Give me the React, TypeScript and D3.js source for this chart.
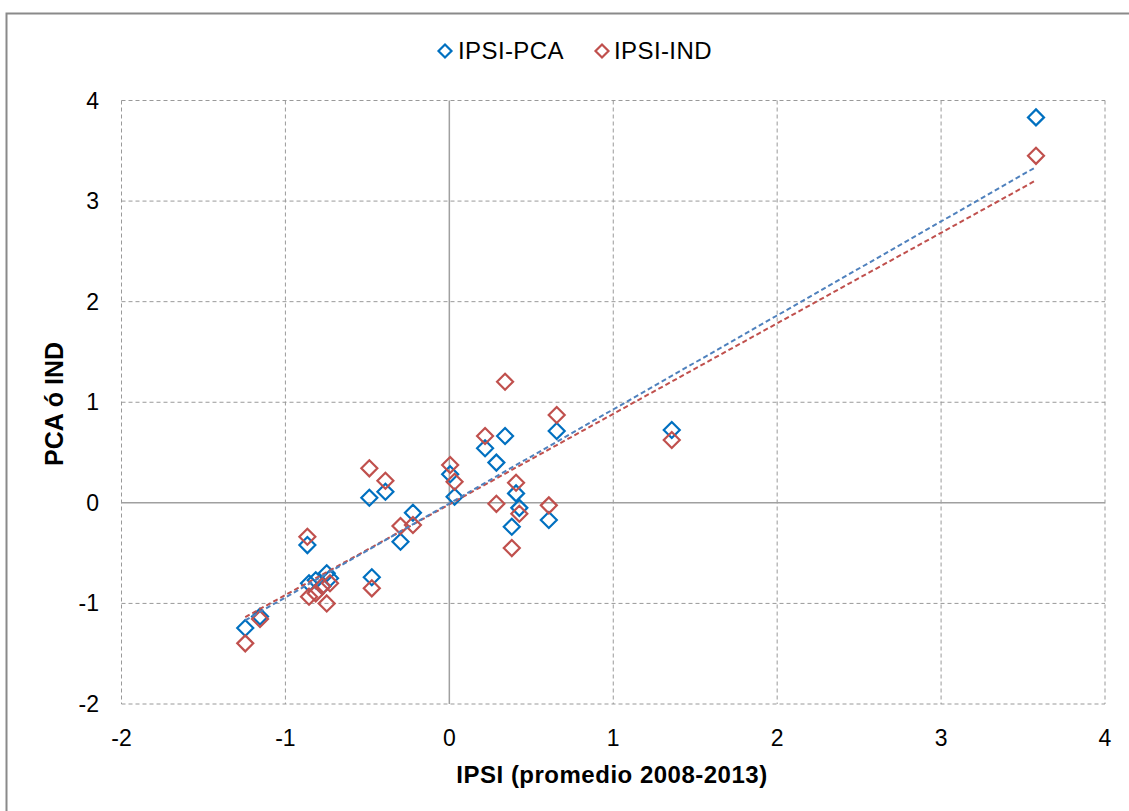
import React from "react";
import * as d3 from "d3";

const ipsi = [-1.245, -1.155, -0.866, -0.856, -0.815, -0.775, -0.748, -0.728, -0.488, -0.473, -0.39, -0.298, -0.222, 0.005, 0.032, 0.218, 0.287, 0.34, 0.381, 0.407, 0.427, 0.607, 0.655, 1.357, 3.579];
const pca = [-1.245, -1.13, -0.42, -0.8, -0.77, -0.83, -0.7, -0.75, 0.05, -0.74, 0.11, -0.387, -0.098, 0.285, 0.06, 0.542, 0.4, 0.664, -0.238, 0.094, -0.05, -0.171, 0.714, 0.724, 3.832];
const ind = [-1.397, -1.155, -0.337, -0.933, -0.9, -0.83, -1.0, -0.8, 0.343, -0.85, 0.22, -0.231, -0.22, 0.376, 0.21, 0.664, -0.01, 1.204, -0.45, 0.2, -0.108, -0.025, 0.873, 0.624, 3.45];
const xTicks = [-2, -1, 0, 1, 2, 3, 4];
const yTicks = [-2, -1, 0, 1, 2, 3, 4];
const seriesNames = ["IPSI-PCA", "IPSI-IND"];

const W = 1129, H = 811;
const L = 121.5, R = 1105, T = 100.5, B = 704;
const FONT = "'Liberation Sans', Arial, sans-serif";

function fit(xs: number[], ys: number[]) {
  const mx = d3.mean(xs)!, my = d3.mean(ys)!;
  let sxy = 0, sxx = 0;
  xs.forEach((x, i) => { sxy += (x - mx) * (ys[i] - my); sxx += (x - mx) ** 2; });
  const b = sxy / sxx;
  return { a: my - b * mx, b };
}

function diamond(cx: number, cy: number, r: number) {
  return `M${cx},${cy - r}L${cx + r},${cy}L${cx},${cy + r}L${cx - r},${cy}Z`;
}

export default function App() {
  const x = d3.scaleLinear().domain([-2, 4]).range([L, R]);
  const y = d3.scaleLinear().domain([-2, 4]).range([B, T]);
  const xmin = d3.min(ipsi)!, xmax = d3.max(ipsi)!;
  const series = [
    { name: seriesNames[0], vals: pca, color: "#0070C0", trend: "#4F81BD" },
    { name: seriesNames[1], vals: ind, color: "#C0504D", trend: "#C0504D" },
  ];
  const line = d3.line<[number, number]>().x(d => x(d[0])).y(d => y(d[1]));
  const gridColor = "#999999";
  return (
    <svg width={W} height={H} style={{ position: "absolute", left: 0, top: 0, background: "#fff" }}>
      <rect x={0} y={0} width={W} height={H} fill="#fff" />
      <path d={`M6.5,${H}L6.5,13.5L${W},13.5`} fill="none" stroke="#8a8a8a" strokeWidth={2} />
      {xTicks.filter(t => t !== 0).map(t => (
        <line key={"gx" + t} x1={x(t)} x2={x(t)} y1={T} y2={B} stroke={gridColor} strokeWidth={1} strokeDasharray="4,3" />
      ))}
      {yTicks.filter(t => t !== 0).map(t => (
        <line key={"gy" + t} x1={L} x2={R} y1={y(t)} y2={y(t)} stroke={gridColor} strokeWidth={1} strokeDasharray="4,3" />
      ))}
      <line x1={x(0)} x2={x(0)} y1={T} y2={B} stroke="#a0a0a0" strokeWidth={1.5} />
      <line x1={L} x2={R} y1={y(0)} y2={y(0)} stroke="#a0a0a0" strokeWidth={1.5} />
      {xTicks.map(t => (
        <text key={"xl" + t} x={x(t)} y={746} textAnchor="middle" fontFamily={FONT} fontSize={23} fill="#000">{t}</text>
      ))}
      {yTicks.map(t => (
        <text key={"yl" + t} x={99} y={y(t) + 8} textAnchor="end" fontFamily={FONT} fontSize={23} fill="#000">{t}</text>
      ))}
      {series.map(s => (
        <g key={s.name}>
          {ipsi.map((xv, i) => (
            <path key={i} d={diamond(x(xv), y(s.vals[i]), 8)} fill="none" stroke={s.color} strokeWidth={2.2} />
          ))}
        </g>
      ))}
      {[series[1], series[0]].map(s => {
        const f = fit(ipsi, s.vals);
        const pts: [number, number][] = [[xmin, f.a + f.b * xmin], [xmax, f.a + f.b * xmax]];
        return <path key={"t" + s.name} d={line(pts)!} fill="none" stroke={s.trend} strokeWidth={2} strokeDasharray="5,3" />;
      })}
      <text x={612} y={783} textAnchor="middle" fontFamily={FONT} fontSize={24} fontWeight="bold" letterSpacing={0.5}>IPSI (promedio 2008-2013)</text>
      <text transform={`translate(63,404) rotate(-90)`} textAnchor="middle" fontFamily={FONT} fontSize={25} fontWeight="bold">PCA ó IND</text>
      <path d={diamond(445, 51, 6.5)} fill="none" stroke={series[0].color} strokeWidth={2.2} />
      <text x={458} y={59} fontFamily={FONT} fontSize={24} letterSpacing={0.4}>{seriesNames[0]}</text>
      <path d={diamond(602, 51, 6.5)} fill="none" stroke={series[1].color} strokeWidth={2.2} />
      <text x={614} y={59} fontFamily={FONT} fontSize={24} letterSpacing={0.4}>{seriesNames[1]}</text>
    </svg>
  );
}
